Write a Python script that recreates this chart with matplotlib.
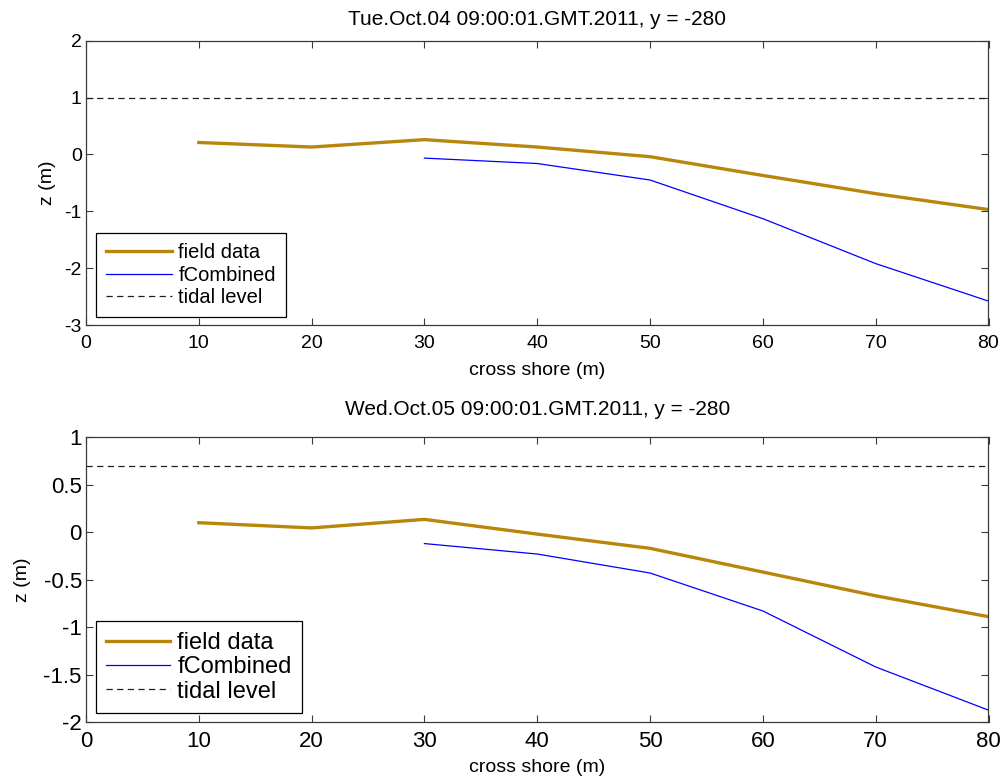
import matplotlib
matplotlib.use("Agg")
import matplotlib.pyplot as plt

plt.rcParams['font.family'] = ['Liberation Sans', 'DejaVu Sans']

# ---- data ----
x_field = [10, 20, 30, 40, 50, 60, 70, 80]
x_comb = [30, 40, 50, 60, 70, 80]
x_tide = [0, 80]

titles = ["Tue.Oct.04 09:00:01.GMT.2011, y = -280",
          "Wed.Oct.05 09:00:01.GMT.2011, y = -280"]

field_top = [0.21, 0.13, 0.26, 0.13, -0.04, -0.37, -0.69, -0.97]
comb_top = [-0.065, -0.16, -0.45, -1.13, -1.92, -2.58]
tide_top = [1.0, 1.0]

field_bot = [0.10, 0.045, 0.135, -0.02, -0.17, -0.42, -0.67, -0.89]
comb_bot = [-0.12, -0.23, -0.43, -0.83, -1.42, -1.875]
tide_bot = [0.70, 0.70]

xticks = [0, 10, 20, 30, 40, 50, 60, 70, 80]
yticks_top = [-3, -2, -1, 0, 1, 2]
yticks_bot = [-2, -1.5, -1, -0.5, 0, 0.5, 1]
ytick_labels_bot = ["-2", "-1.5", "-1", "-0.5", "0", "0.5", "1"]

labels = ["field data", "fCombined", "tidal level"]

# ---- figure ----
fig = plt.figure(figsize=(10.03, 7.80), dpi=100)
W, H = 1003, 780

def add_axes(left, top, right, bottom):
    return fig.add_axes([left / W, 1 - bottom / H, (right - left) / W, (bottom - top) / H])

ax1 = add_axes(86, 40.7, 988.5, 325)
ax2 = add_axes(86, 437.3, 988.5, 722)

gold = '#B8860B'
spine_col = '#3a3a3a'

configs = [
    # ax, field, comb, tide, title, ylim, yticks, ytlabels, tick fs, legend fs,
    # legend anchor, handlelength, labelspacing, borderpad, title pad, xtick pad, xlabelpad, ylabelpad
    (ax1, field_top, comb_top, tide_top, titles[0], (-3, 2), yticks_top,
     [str(v) for v in yticks_top], 14, 14.5, (0.0108, 0.027), 3.3, 0.18, 0.5, 11, 7.3, 7, 6),
    (ax2, field_bot, comb_bot, tide_bot, titles[1], (-2, 1), yticks_bot,
     ytick_labels_bot, 16, 17, (0.0108, 0.0306), 2.7, 0.1, 0.45, 16, 6.5, 5, 9),
]

for (ax, fld, cmb, tid, ttl, ylim, yt, ytl, tfs, lfs, lanchor, hl, ls, bp,
     tpad, xpad, xlp, ylp) in configs:
    ax.plot(x_field, fld, color=gold, lw=2.4, label=labels[0], solid_joinstyle='round')
    ax.plot(x_comb, cmb, color='#0000ff', lw=0.9, label=labels[1])
    ax.plot(x_tide, tid, color='#202020', lw=0.9, ls=(0, (5, 3.5)), label=labels[2])
    ax.set_xlim(0, 80)
    ax.set_ylim(*ylim)
    ax.set_xticks(xticks)
    ax.set_yticks(yt)
    ax.set_yticklabels(ytl)
    ax.tick_params(direction='in', top=True, right=True, length=5, width=0.8,
                   labelsize=tfs, colors=spine_col, labelcolor='black', pad=3)
    ax.tick_params(axis='x', pad=xpad)
    for s in ax.spines.values():
        s.set_color(spine_col)
        s.set_linewidth(0.9)
    ax.set_title(ttl, fontsize=15, pad=tpad)
    ax.set_xlabel("cross shore (m)", fontsize=14, labelpad=xlp)
    ax.set_ylabel("z (m)", fontsize=14, labelpad=ylp)
    leg = ax.legend(loc='lower left', bbox_to_anchor=lanchor, borderaxespad=0,
                    fontsize=lfs, handlelength=hl, handletextpad=0.3,
                    labelspacing=ls, borderpad=bp, fancybox=False,
                    framealpha=1, edgecolor='black')
    leg.get_frame().set_linewidth(0.9)

fig.savefig("out.png", dpi=100)
